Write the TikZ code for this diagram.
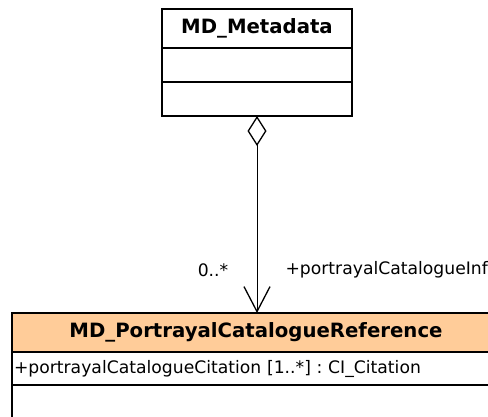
\documentclass[tikz,border=0pt]{standalone}
\usepackage{fontspec}
\setmainfont{DejaVu Sans}
\usepackage{xcolor}
\usetikzlibrary{shapes}
\usetikzlibrary{arrows.meta}
\usetikzlibrary{calc}
\frenchspacing

\definecolor{classorange}{RGB}{255,204,153}

\begin{document}
\begin{tikzpicture}[x=1pt,y=-1pt]%%portrayal

                \tikzstyle{part}  = [rectangle, draw, line width=2pt, inner sep=0pt, outer sep=0pt, anchor=north west]
                \tikzstyle{title} = [font=\bfseries\fontsize{19.7}{20}\selectfont]
                \tikzstyle{small} = [font=\fontsize{17.2}{18}\selectfont]
                \useasboundingbox (0,0) rectangle (488,416);
                \clip (0,0) rectangle (488,416);
                % MD_Metadata
                \node [part, title, minimum width=190, minimum height=39](meta) at (162,9) {MD\_Metadata};
                \node [part, minimum width=190, minimum height=34](metaattr) at (meta.south west) {};
                \node [part, minimum width=190, minimum height=34](metaops) at (metaattr.south west) {};
                % MD_PortrayalCatalogueReference
                \node [part, title, fill=classorange, minimum width=490, minimum height=39, text width=490, align=left](ref) at (12,313) {\hspace{57.5pt}MD\_PortrayalCatalogueReference};
                \node [part, small, minimum width=490, minimum height=33, text width=490, align=left](refattr) at (ref.south west) {\hspace{2pt}+portrayalCatalogueCitation [1..*] : CI\_Citation};
                \node [part, minimum width=490, minimum height=40](refops) at (refattr.south west) {};
                % association
                \coordinate (end) at (metaops.south |- ref.north);
                \draw [line width=1pt, {Diamond[open, width=19pt, length=30pt, line width=1.3pt]}-{Straight Barb[width=26pt, length=25pt, line width=1.3pt]}] (metaops.south) -- (end);
                \node [small](mult) at (213,270) {0..*};
                \node [small, anchor=west](role) at (282,270) {+portrayalCatalogueInfo};
\end{tikzpicture}
\end{document}
